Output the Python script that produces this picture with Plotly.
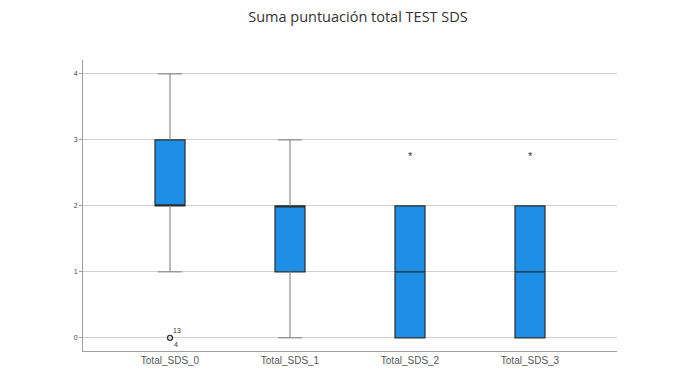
import plotly.graph_objects as go

categories = ["Total_SDS_0", "Total_SDS_1", "Total_SDS_2", "Total_SDS_3"]
q1 = [2, 1, 0, 0]
median = [2, 2, 1, 1]
q3 = [3, 2, 2, 2]
whisker_low = [1, 0, 0, 0]
whisker_high = [4, 3, 2, 2]
# outliers (circle) and extremes (asterisk)
outlier_cat = [0]
outlier_val = [0]
outlier_labels = [("13", "4")]
extreme_cat = [2, 3]
extreme_val = [3, 3]
y_ticks = [0, 1, 2, 3, 4]

pos = list(range(len(categories)))
box_color = "#1e8fe6"
whisk_color = "#8c8c8c"
half_box = 0.125
half_cap = 0.1

fig = go.Figure()

# whiskers and caps
for i in pos:
    xs, ys = [], []
    if whisker_low[i] < q1[i]:
        xs += [i, i, None, i - half_cap, i + half_cap, None]
        ys += [whisker_low[i], q1[i], None, whisker_low[i], whisker_low[i], None]
    if whisker_high[i] > q3[i]:
        xs += [i, i, None, i - half_cap, i + half_cap, None]
        ys += [q3[i], whisker_high[i], None, whisker_high[i], whisker_high[i], None]
    if xs:
        fig.add_trace(go.Scatter(x=xs, y=ys, mode="lines",
                                 line=dict(color=whisk_color, width=1.2),
                                 hoverinfo="skip", showlegend=False))

fig.add_trace(go.Box(
    x=pos, q1=q1, median=median, q3=q3,
    lowerfence=q1, upperfence=q3,
    width=2 * half_box,
    fillcolor=box_color,
    line=dict(color="#2b2b2b", width=1.2),
    boxpoints=False, showlegend=False,
))

fig.add_trace(go.Scatter(
    x=outlier_cat, y=outlier_val, mode="markers",
    marker=dict(symbol="circle-open", size=5, color="#333333", line=dict(width=1.3)),
    showlegend=False,
))

annotations = []
for c, v, (top, bot) in zip(outlier_cat, outlier_val, outlier_labels):
    annotations.append(dict(x=c, y=v, text=top, showarrow=False, xshift=7, yshift=7,
                            font=dict(size=7, color="#333333", family="Arial")))
    annotations.append(dict(x=c, y=v, text=bot, showarrow=False, xshift=6, yshift=-7,
                            font=dict(size=7, color="#333333", family="Arial")))
for c, v in zip(extreme_cat, extreme_val):
    annotations.append(dict(x=c, y=v, text="*", showarrow=False, yshift=-16,
                            font=dict(size=11, color="#333333", family="Arial")))

fig.update_layout(
    width=700, height=381,
    margin=dict(l=75, r=91, t=52, b=38),
    paper_bgcolor="white", plot_bgcolor="white",
    title=dict(text="Suma puntuación total TEST SDS", x=0.5, xanchor="center",
               y=0.976, yanchor="middle",
               font=dict(family="Open Sans", size=14.5, color="#333333")),
    annotations=annotations,
    xaxis=dict(range=[-0.725, 3.725], tickvals=pos, ticktext=categories,
               showgrid=False, zeroline=False, showline=True, linecolor="#a0a0a0",
               linewidth=1, ticks="", tickfont=dict(family="Arial", size=10, color="#555555")),
    yaxis=dict(range=[-0.2, 4.21], tickvals=y_ticks, showgrid=True, gridcolor="#d0d0d0",
               gridwidth=1, zeroline=False, showline=True, linecolor="#a0a0a0",
               linewidth=1, ticks="outside", ticklen=3, tickcolor="#a0a0a0",
               tickfont=dict(family="Arial", size=7, color="#444444")),
)

fig.write_html("out.html")
